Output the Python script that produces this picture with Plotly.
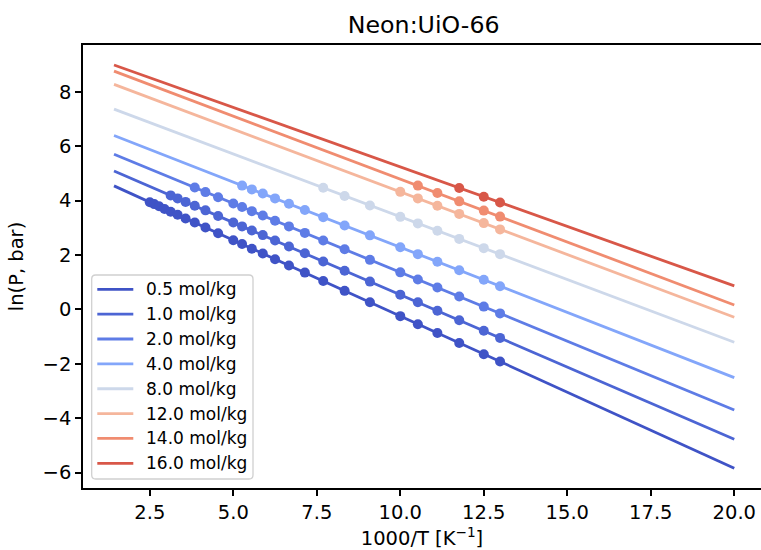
import plotly.graph_objects as go

# ---- data ----
loadings = ["0.5", "1.0", "2.0", "4.0", "8.0", "12.0", "14.0", "16.0"]
colors = ["#3f53c6", "#4c65d4", "#5e7ce6", "#83a6fa", "#cdd8ea", "#f5b69c", "#f08c70", "#d85748"]

# fitted lines, drawn from 1000/700 to 1000/50
line_x = [1.4286, 20.0]
line_start = [4.54, 5.09, 5.70, 6.39, 7.36, 8.27, 8.76, 8.985]
line_end = [-5.84, -4.78, -3.70, -2.51, -1.21, -0.29, 0.16, 0.86]

# measured points: temperatures (K) and ln(P)
T_grid = [400, 380, 360, 340, 320, 300, 280, 260, 240, 220, 200, 190, 180, 170,
          160, 150, 140, 130, 120, 110, 100, 95, 90, 85, 80, 77]

T_05 = T_grid
lnP_05 = [3.94, 3.87, 3.79, 3.69, 3.59, 3.48, 3.34, 3.19, 3.01, 2.80, 2.54, 2.40, 2.23,
          2.05, 1.84, 1.61, 1.35, 1.04, 0.68, 0.26, -0.25, -0.55, -0.87, -1.24, -1.65, -1.92]
T_10 = T_grid[4:]
lnP_10 = [4.19, 4.08, 3.95, 3.81, 3.64, 3.43, 3.19, 3.05, 2.90, 2.73, 2.53, 2.31, 2.06,
          1.76, 1.42, 1.02, 0.54, 0.26, -0.05, -0.40, -0.79, -1.05]
T_20 = T_grid[7:]
lnP_20 = [4.48, 4.31, 4.12, 3.89, 3.76, 3.61, 3.45, 3.26, 3.05, 2.81, 2.53, 2.21, 1.82,
          1.36, 1.10, 0.80, 0.47, 0.10, -0.15]
T_40 = T_grid[11:]
lnP_40 = [4.55, 4.41, 4.26, 4.08, 3.88, 3.65, 3.39, 3.08, 2.72, 2.28, 2.03, 1.75, 1.44, 1.09, 0.85]
T_80 = T_grid[17:]
lnP_80 = [4.47, 4.17, 3.82, 3.40, 3.16, 2.89, 2.59, 2.25, 2.03]
T_120 = T_grid[20:]
lnP_120 = [4.32, 4.08, 3.81, 3.51, 3.17, 2.94]
T_140 = T_grid[21:]
lnP_140 = [4.55, 4.28, 3.97, 3.63, 3.41]
T_160 = T_grid[23:]
lnP_160 = [4.46, 4.14, 3.93]

point_T = [T_05, T_10, T_20, T_40, T_80, T_120, T_140, T_160]
point_lnP = [lnP_05, lnP_10, lnP_20, lnP_40, lnP_80, lnP_120, lnP_140, lnP_160]

x_ticks = [2.5, 5.0, 7.5, 10.0, 12.5, 15.0, 17.5, 20.0]
x_ticklabels = ["2.5", "5.0", "7.5", "10.0", "12.5", "15.0", "17.5", "20.0"]
y_ticks = [-6, -4, -2, 0, 2, 4, 6, 8]

FONT = "DejaVu Sans"
TICK = 19.5
W, H = 761, 550
ML, MR, MT, MB = 83, 0, 45, 62
PW, PH = W - ML - MR, H - MT - MB


def px_x(px):  # pixel -> paper x
    return (px - ML) / PW


def px_y(py):  # pixel -> paper y
    return (H - MB - py) / PH


fig = go.Figure()
for i, lab in enumerate(loadings):
    fig.add_trace(go.Scatter(
        x=line_x, y=[line_start[i], line_end[i]], mode="lines",
        line=dict(color=colors[i], width=2.8),
        name=f"{lab} mol/kg", showlegend=False))
for i, lab in enumerate(loadings):
    fig.add_trace(go.Scatter(
        x=[1000.0 / t for t in point_T[i]], y=point_lnP[i], mode="markers",
        marker=dict(color=colors[i], size=10, line=dict(width=0)),
        name=f"{lab} mol/kg", showlegend=False, hoverinfo="x+y"))

# ---- legend box (matplotlib style, lower left) ----
bx0, bx1, by0, by1, r = 91.7, 253.0, 275.0, 479.0, 4.0
rx, ry = r / PW, r / PH
X0, X1, Y0, Y1 = px_x(bx0), px_x(bx1), px_y(by1), px_y(by0)
path = (f"M {X0 + rx} {Y0} L {X1 - rx} {Y0} Q {X1} {Y0} {X1} {Y0 + ry} "
        f"L {X1} {Y1 - ry} Q {X1} {Y1} {X1 - rx} {Y1} "
        f"L {X0 + rx} {Y1} Q {X0} {Y1} {X0} {Y1 - ry} "
        f"L {X0} {Y0 + ry} Q {X0} {Y0} {X0 + rx} {Y0} Z")
shapes = [dict(type="path", path=path, xref="paper", yref="paper",
               fillcolor="rgba(255,255,255,0.8)", line=dict(color="#d0d0d0", width=1.3),
               layer="above")]
annotations = []
row0, drow = 289.3, 24.86
for i, lab in enumerate(loadings):
    yy = px_y(row0 + drow * i)
    shapes.append(dict(type="line", xref="paper", yref="paper",
                       x0=px_x(97.3), x1=px_x(133.3), y0=yy, y1=yy,
                       line=dict(color=colors[i], width=2.8), layer="above"))
    annotations.append(dict(text=f"{lab} mol/kg", xref="paper", yref="paper",
                            x=px_x(144.0), y=yy, xanchor="left", yanchor="middle",
                            showarrow=False,
                            font=dict(family=FONT, size=17.0, color="black")))

fig.update_layout(
    width=W, height=H,
    margin=dict(l=ML, r=MR, t=MT, b=MB, autoexpand=False),
    paper_bgcolor="white", plot_bgcolor="white",
    font=dict(family=FONT, size=TICK, color="black"),
    title=dict(text="Neon:UiO-66", font=dict(family=FONT, size=23.7, color="black"),
               x=0.5025, xref="paper", xanchor="center",
               y=1 - 25 / 550, yanchor="middle", yref="container"),
    xaxis=dict(range=[0.5, 20.80], tickvals=x_ticks, ticktext=x_ticklabels,
               showgrid=False, zeroline=False, showline=True, linecolor="black",
               linewidth=1.5, mirror=True, ticks="outside", ticklen=6, tickwidth=1.5,
               tickcolor="black", tickfont=dict(size=TICK), automargin=False,
               title=dict(text="1000/T [K<sup>−1</sup>]", font=dict(size=TICK), standoff=17)),
    yaxis=dict(range=[-6.57, 9.72], tickvals=y_ticks,
               showgrid=False, zeroline=False, showline=True, linecolor="black",
               linewidth=1.5, mirror=False, ticks="outside", ticklen=6, tickwidth=1.5,
               tickcolor="black", tickfont=dict(size=TICK), automargin=False,
               title=dict(text="ln(P, bar)", font=dict(size=TICK), standoff=14)),
    shapes=shapes,
    annotations=annotations,
    showlegend=False,
)

fig.write_html("out.html")
